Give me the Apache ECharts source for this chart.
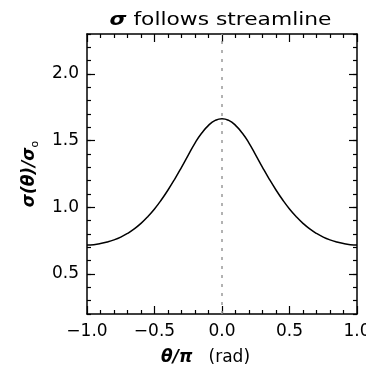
<!DOCTYPE html>
<html><head><meta charset="utf-8">
<script src="https://cdn.jsdelivr.net/npm/echarts@6/dist/echarts.min.js"></script>
<style>html,body{margin:0;padding:0;background:#fff}#c{width:366px;height:368px}</style>
</head><body><div id="c"></div>
<script>
const theta = [-1.0,-0.95,-0.9,-0.85,-0.8,-0.75,-0.7,-0.65,-0.6,-0.55,-0.5,-0.45,-0.4,-0.35,-0.3,-0.25,-0.2,-0.15,-0.1,-0.05,
  0.0,0.05,0.1,0.15,0.2,0.25,0.3,0.35,0.4,0.45,0.5,0.55,0.6,0.65,0.7,0.75,0.8,0.85,0.9,0.95,1.0];
const sigma = [0.717,0.720,0.728,0.740,0.756,0.777,0.804,0.838,0.880,0.930,0.988,1.055,1.130,1.212,1.300,1.392,1.482,1.557,1.615,1.652,
  1.665,1.652,1.615,1.557,1.482,1.392,1.300,1.212,1.130,1.055,0.988,0.930,0.880,0.838,0.804,0.777,0.756,0.740,0.728,0.720,0.717];
const xMajorTicks = [-1.0,-0.5,0.0,0.5,1.0];
const yMajorTicks = [0.5,1.0,1.5,2.0];
const xRange = [-1.0, 1.0];
const yRange = [0.2, 2.3];
const refLineX = 0.0;

const FONT = 'DejaVu Sans';
const fmt = v => (v < 0 ? '\u2212' : '') + Math.abs(v).toFixed(1);
const gridRect = {left:87, right:9, top:34, bottom:54, outerBoundsMode:'none', containLabel:false};
const black = '#000';

const chart = echarts.init(document.getElementById('c'), null, {renderer:'canvas'});

function xAx(gi, pos, labels){
  return {gridIndex:gi, type:'value', position:pos, min:xRange[0], max:xRange[1], interval:0.5,
    axisLine:{show:true, onZero:false, lineStyle:{color:black, width:1.5}},
    axisTick:{show:true, inside:true, length:8, lineStyle:{color:black, width:1.2}},
    minorTick:{show:true, splitNumber:5, length:4, lineStyle:{color:black, width:1.2}},
    axisLabel:{show:labels, formatter:fmt, margin:9, fontSize:17, color:black, fontFamily:FONT,
      showMinLabel:true, showMaxLabel:true, hideOverlap:false},
    splitLine:{show:false}, minorSplitLine:{show:false}};
}
function yAxMinor(pos, labels){
  return {gridIndex:0, type:'value', position:pos, min:yRange[0], max:yRange[1], interval:0.1,
    axisLine:{show:true, onZero:false, lineStyle:{color:black, width:1.5}},
    axisTick:{show:true, inside:true, length:4, lineStyle:{color:black, width:1.2}},
    axisLabel:{show:labels, customValues:yMajorTicks, formatter:fmt, margin:8, fontSize:17, color:black, fontFamily:FONT},
    splitLine:{show:false}};
}
function yAxMajor(pos){
  return {gridIndex:1, type:'value', position:pos, min:yRange[0], max:yRange[1],
    axisLine:{show:false, onZero:false},
    axisTick:{show:true, inside:true, length:8, customValues:yMajorTicks, lineStyle:{color:black, width:1.2}},
    axisLabel:{show:false}, splitLine:{show:false}};
}

const yLeft = yAxMinor('left', true);
yLeft.name = '{i|\u03c3(\u03b8)/\u03c3}{s|o}';
yLeft.nameLocation = 'middle';
yLeft.nameRotate = 90;
yLeft.nameGap = 46;
yLeft.nameTextStyle = {fontSize:17, color:black, fontFamily:FONT,
  rich:{i:{fontSize:17, fontStyle:'italic', fontWeight:'bold', fontFamily:FONT, color:black, lineHeight:22},
        s:{fontSize:11, fontFamily:FONT, color:black, verticalAlign:'bottom', lineHeight:22}}};

const option = {
  animation:false,
  backgroundColor:'#fff',
  grid:[Object.assign({}, gridRect), Object.assign({}, gridRect)],
  xAxis:[xAx(0,'bottom',true), xAx(0,'top',false),
    {gridIndex:1, type:'value', min:xRange[0], max:xRange[1], show:false}],
  yAxis:[yLeft, yAxMinor('right', false), yAxMajor('left'), yAxMajor('right')],
  graphic:[
    {type:'text', x:220.5, y:21, scaleX:1.28, scaleY:1,
      style:{text:'{s|\u03c3} follows streamline', fontSize:17, fontFamily:FONT, fill:black,
        align:'center', verticalAlign:'middle',
        rich:{s:{fontSize:17, fontStyle:'italic', fontWeight:'bold', fontFamily:FONT, fill:black}}}},
    {type:'text', left:161, top:349,
      style:{text:'{b|\u03b8/\u03c0}   (rad)', fontSize:17, fontFamily:FONT, fill:black,
        rich:{b:{fontSize:17, fontStyle:'italic', fontWeight:'bold', fontFamily:FONT, fill:black}}}}],
  series:[{
    type:'line', xAxisIndex:0, yAxisIndex:0,
    data: theta.map((t,i)=>[t, sigma[i]]),
    showSymbol:false, smooth:true, clip:true,
    lineStyle:{color:black, width:1.5},
    markLine:{silent:true, symbol:'none', label:{show:false},
      lineStyle:{color:'#999', type:[3,6], width:1.5},
      data:[{xAxis:refLineX}]}
  }]
};
chart.setOption(option);
</script>
</body></html>
